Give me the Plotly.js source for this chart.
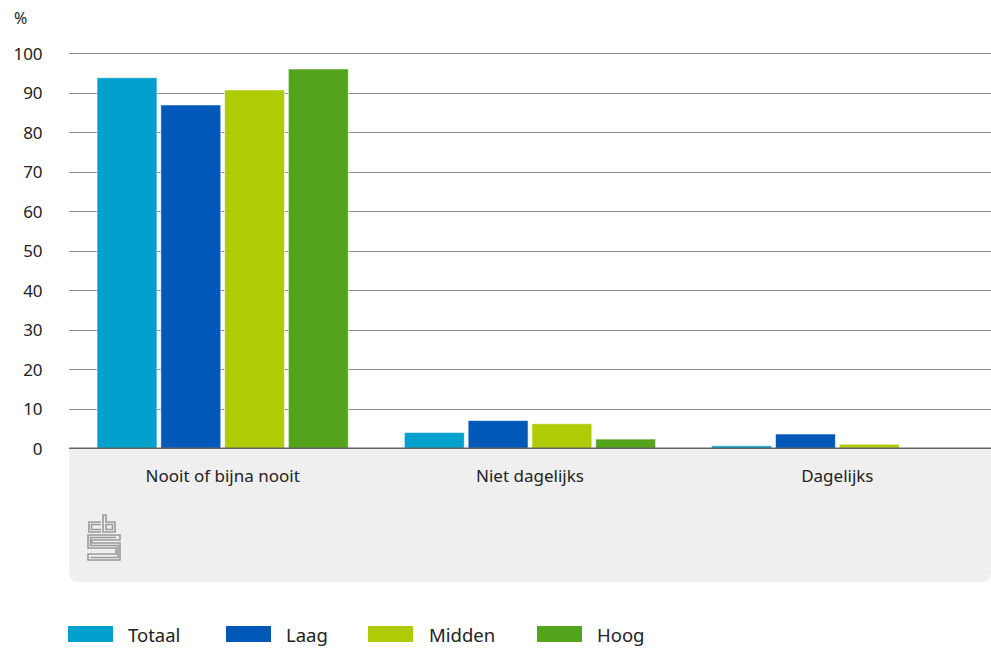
<!DOCTYPE html>
<html>
<head>
<meta charset="utf-8">
<script src="https://cdn.plot.ly/plotly-3.0.1.min.js"></script>
<style>html,body{margin:0;padding:0;background:#fff}#chart{width:991px;height:648px}</style>
</head>
<body>
<div id="chart"></div>
<script>
const categories = ["Nooit of bijna nooit", "Niet dagelijks", "Dagelijks"];
const seriesNames = ["Totaal", "Laag", "Midden", "Hoog"];
const totaal = [94, 4.2, 0.8];
const laag = [87.1, 7.2, 3.8];
const midden = [90.9, 6.4, 1.2];
const hoog = [96.2, 2.5, 0];
const yTicks = [0, 10, 20, 30, 40, 50, 60, 70, 80, 90, 100];
const colors = ["#00a1cd", "#0058b8", "#afcb05", "#53a31d"];

const W = 991, H = 648;
const L = 69, R = 991, T = 50, B = 449;
const px = x => (x - L) / (R - L);
const py = y => (B - y) / (B - T);

const values = [totaal, laag, midden, hoog];
const traces = values.map((v, i) => ({
  type: 'bar', x: categories, y: v, name: seriesNames[i],
  marker: {color: colors[i], line: {color: 'rgba(255,255,255,0.6)', width: 1}},
  showlegend: false, hoverinfo: 'none'
}));

const font = "'Noto Sans', 'Open Sans', sans-serif";
const shapes = [];
shapes.push({
  type: 'path', xref: 'paper', yref: 'paper', layer: 'below',
  path: `M ${px(69)},${py(449)} L ${px(991)},${py(449)} L ${px(991)},${py(572)} Q ${px(991)},${py(582)} ${px(981)},${py(582)} L ${px(79)},${py(582)} Q ${px(69)},${py(582)} ${px(69)},${py(572)} Z`,
  fillcolor: '#efefef', line: {width: 0}
});
shapes.push({type: 'line', xref: 'paper', yref: 'y', x0: 0, x1: 1, y0: 0, y1: 0, line: {color: '#666666', width: 3}});
const lg = {color: '#9a9a9a', width: 1.6};
const logoPaths = [
  'M 101,522 L 89,522 L 89,532 L 101,532',
  'M 101,524.5 L 91.5,524.5 L 91.5,529.5 L 101,529.5',
  'M 103,515 L 103,532 L 115,532 L 115,522 L 106,522 L 106,515 Z',
  'M 106,524.5 L 112.5,524.5 L 112.5,529.5 L 106,529.5 Z',
  'M 120,535 L 88,535 L 88,548 L 116,548 L 116,554 L 88,554 L 88,560 L 120,560 L 120,543 L 92,543 L 92,540 L 120,540 Z',
  'M 116,537.5 L 90.5,537.5 L 90.5,545.5 L 118,545.5 L 118,557.5 L 90.5,557.5'
];
logoPaths.forEach(p => {
  const conv = p.replace(/(-?[\d.]+),(-?[\d.]+)/g, (m, a, b) => `${px(+a)},${py(+b)}`);
  shapes.push({type: 'path', xref: 'paper', yref: 'paper', path: conv, line: lg, layer: 'above'});
});

const legendSwatchX = [68, 226, 368, 537];
const legendTextX = [127, 285, 428, 596];
const annotations = [];
seriesNames.forEach((n, i) => {
  shapes.push({type: 'rect', xref: 'paper', yref: 'paper',
    x0: px(legendSwatchX[i]), x1: px(legendSwatchX[i] + 45),
    y0: py(626), y1: py(642), fillcolor: colors[i], line: {width: 0}});
  annotations.push({xref: 'paper', yref: 'paper', x: px(legendTextX[i] - 1), y: py(634),
    xanchor: 'left', yanchor: 'middle', showarrow: false, text: n,
    font: {family: font, size: 18.5, color: '#222'}});
});
annotations.push({xref: 'paper', yref: 'paper', x: px(12), y: py(18), xanchor: 'left', yanchor: 'middle',
  showarrow: false, text: '%', font: {family: font, size: 16, color: '#222'}});

const layout = {
  width: W, height: H,
  margin: {l: L, r: W - R, t: T, b: H - B, pad: 0},
  paper_bgcolor: '#ffffff', plot_bgcolor: 'rgba(0,0,0,0)',
  font: {family: font, size: 17, color: '#222'},
  barmode: 'group', bargap: 0.17, bargroupgap: 0.06,
  xaxis: {type: 'category', showgrid: false, zeroline: false, showline: false,
    ticks: 'outside', ticklen: 12, tickcolor: 'rgba(0,0,0,0)',
    tickfont: {family: font, size: 17, color: '#222'}, fixedrange: true},
  yaxis: {range: [0, 101], tickvals: yTicks, ticktext: yTicks.map(String),
    showgrid: true, gridcolor: '#8c8c8c', gridwidth: 1, zeroline: false, showline: false,
    ticks: 'outside', ticklen: 22, tickcolor: 'rgba(0,0,0,0)',
    tickfont: {family: font, size: 17, color: '#222'}, fixedrange: true},
  shapes: shapes, annotations: annotations, showlegend: false
};
Plotly.newPlot('chart', traces, layout, {displayModeBar: false, staticPlot: true});
</script>
</body>
</html>
